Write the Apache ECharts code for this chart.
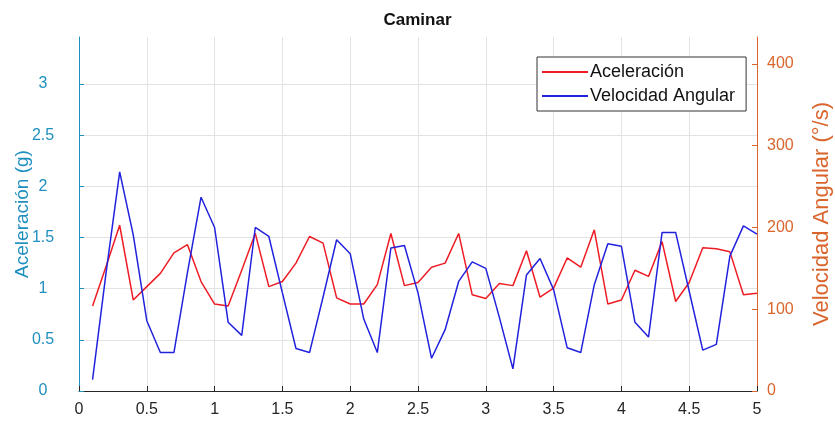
<!DOCTYPE html>
<html>
<head>
<meta charset="utf-8">
<script src="https://cdn.jsdelivr.net/npm/echarts@6/dist/echarts.min.js"></script>
<style>html,body{margin:0;padding:0;background:#fff}#c{width:835px;height:423px}</style>
</head>
<body>
<div id="c"></div>
<script>
const chartTitle = 'Caminar';
const seriesNames = ['Aceleración', 'Velocidad Angular'];
const timeValues = [0.1,0.2,0.3,0.4,0.5,0.6,0.7,0.8,0.9,1.0,
  1.1,1.2,1.3,1.4,1.5,1.6,1.7,1.8,1.9,2.0,
  2.1,2.2,2.3,2.4,2.5,2.6,2.7,2.8,2.9,3.0,
  3.1,3.2,3.3,3.4,3.5,3.6,3.7,3.8,3.9,4.0,
  4.1,4.2,4.3,4.4,4.5,4.6,4.7,4.8,4.9,5.0];
const aceleracion = [0.83,1.22,1.62,0.89,1.02,1.15,1.35,1.43,1.07,0.85,
  0.83,1.18,1.54,1.02,1.07,1.25,1.51,1.445,0.91,0.85,
  0.85,1.04,1.54,1.03,1.06,1.21,1.25,1.54,0.94,0.905,
  1.05,1.03,1.37,0.917,1.005,1.30,1.21,1.575,0.85,0.89,
  1.18,1.12,1.46,0.875,1.06,1.40,1.39,1.36,0.94,0.955];
const velocidadAngular = [14,145,268,191,86,47,47,145,237,200,
  84,68,200,189,120,52,47,115,185,168,
  88,47,175,178,120,40,75,134,158,150,
  90,27,142,162,124,53,47,130,180,177,
  84,66,194,194,122,50,57,165,202,192];
const xTicks = [0,0.5,1,1.5,2,2.5,3,3.5,4,4.5,5];
const leftTicks = [0,0.5,1,1.5,2,2.5,3];
const rightTicks = [0,100,200,300,400];

const leftColor = '#1f8fbf';
const rightColor = '#d9652c';
const font = 'Liberation Sans, Arial, Helvetica, sans-serif';

const chart = echarts.init(document.getElementById('c'), null, {renderer: 'canvas'});
const pairs = (ys) => timeValues.map((x, i) => [x, ys[i]]);
const leftGridColors = leftTicks.map(() => '#e3e3e3').concat(['rgba(0,0,0,0)']);

chart.setOption({
  backgroundColor: '#ffffff',
  animation: false,
  title: {
    text: chartTitle, left: 'center', top: 7,
    textStyle: {fontFamily: font, fontSize: 17, fontWeight: 'bold', color: '#111'}
  },
  grid: {left: 79, right: 78, top: 37, bottom: 32, containLabel: false, outerBoundsMode: 'none'},
  legend: {
    orient: 'vertical', left: 537, top: 57,
    itemWidth: 46, itemHeight: 2, itemGap: 6, icon: 'rect',
    padding: [6, 11, 6, 5],
    borderColor: '#333', borderWidth: 1, backgroundColor: '#fff',
    textStyle: {fontFamily: font, fontSize: 18, color: '#111', padding: [0, 0, 0, -3]},
    data: [{name: seriesNames[0]}, {name: seriesNames[1]}]
  },
  xAxis: {
    type: 'value', min: 0, max: 5, interval: 0.5,
    axisLine: {show: true, onZero: false, lineStyle: {color: '#262626', width: 1}},
    axisTick: {show: true, inside: true, length: 5, lineStyle: {color: '#262626'}},
    axisLabel: {fontFamily: font, fontSize: 16, color: '#262626', margin: 11,
      formatter: (v) => (xTicks.includes(v) ? String(v) : '')},
    splitLine: {show: true, lineStyle: {color: '#e3e3e3', width: 1}}
  },
  yAxis: [
    {
      type: 'value', position: 'left', min: 0, max: 3.46, interval: 0.5,
      name: 'Aceleración (g)', nameLocation: 'middle', nameRotate: 90, nameGap: 47,
      nameMoveOverlap: false,
      nameTextStyle: {fontFamily: font, fontSize: 19, color: leftColor},
      axisLine: {show: true, lineStyle: {color: leftColor, width: 1}},
      axisTick: {show: true, inside: true, length: 5, lineStyle: {color: leftColor}},
      axisLabel: {fontFamily: font, fontSize: 16, color: leftColor, margin: 36, align: 'center',
        padding: [5, 0, 0, 0], showMaxLabel: false,
        formatter: (v) => (leftTicks.includes(v) ? String(v) : '')},
      splitLine: {show: true, lineStyle: {color: leftGridColors, width: 1}}
    },
    {
      type: 'value', position: 'right', min: 0, max: 433, interval: 100,
      name: 'Velocidad Angular (°/s)', nameLocation: 'middle', nameRotate: 90, nameGap: 54,
      nameMoveOverlap: false,
      nameTextStyle: {fontFamily: font, fontSize: 22, color: rightColor},
      axisLine: {show: true, lineStyle: {color: rightColor, width: 1}},
      axisTick: {show: true, inside: true, length: 5, lineStyle: {color: rightColor}},
      axisLabel: {fontFamily: font, fontSize: 16, color: rightColor, margin: 10,
        padding: [5, 0, 0, 0], showMaxLabel: false,
        formatter: (v) => (rightTicks.includes(v) ? String(v) : '')},
      splitLine: {show: false}
    }
  ],
  series: [
    {
      name: seriesNames[0], type: 'line', yAxisIndex: 0, data: pairs(aceleracion),
      showSymbol: false, symbol: 'none', color: '#ee1c24',
      lineStyle: {color: '#ee1c24', width: 1.5}
    },
    {
      name: seriesNames[1], type: 'line', yAxisIndex: 1, data: pairs(velocidadAngular),
      showSymbol: false, symbol: 'none', color: '#2222dd',
      lineStyle: {color: '#2222dd', width: 1.5}
    }
  ]
});
</script>
</body>
</html>
